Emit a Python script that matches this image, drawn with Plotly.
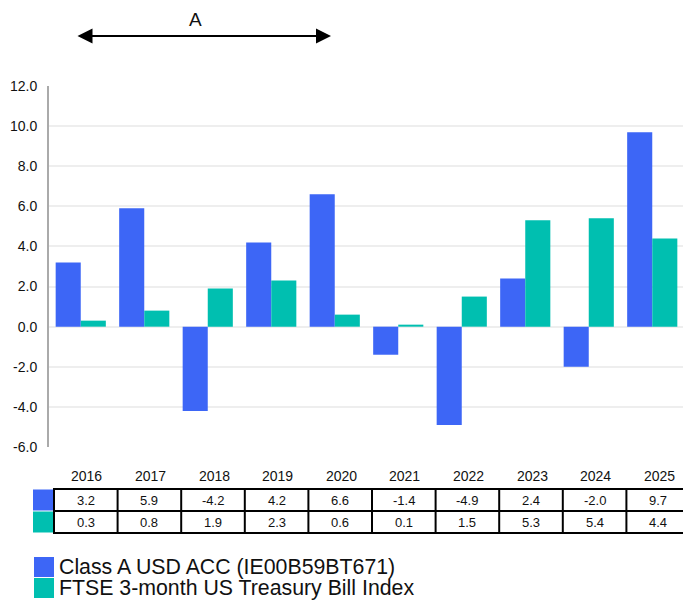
import plotly.graph_objects as go

years = ["2016", "2017", "2018", "2019", "2020", "2021", "2022", "2023", "2024", "2025"]
fund = [3.2, 5.9, -4.2, 4.2, 6.6, -1.4, -4.9, 2.4, -2.0, 9.7]
bench = [0.3, 0.8, 1.9, 2.3, 0.6, 0.1, 1.5, 5.3, 5.4, 4.4]
names = ["Class A USD ACC (IE00B59BT671)", "FTSE 3-month US Treasury Bill Index"]
colors = ["#3D66F6", "#00BFB0"]
yticks = [-6, -4, -2, 0, 2, 4, 6, 8, 10, 12]

# page body has an 8px margin; work in screen pixels
OFF = 8
SW, SH = 691, 601
PL, PR, PT, PB = 49, 684, 86, 447          # plot area in screen pixels
W, H = SW - OFF, SH - OFF
PW, PH = PR - PL, PB - PT
FONT = "Liberation Sans, Arial, sans-serif"

def px(x):
    return (x - PL) / PW

def py(y):
    return (PB - y) / PH

fig = go.Figure()
for vals, name, col in zip([fund, bench], names, colors):
    fig.add_trace(go.Bar(x=years, y=vals, name=name, marker_color=col,
                         marker_line_width=0, showlegend=False))

shapes = []
annotations = []

def text(x, y, s, size, anchor="center", pad=1):
    annotations.append(dict(x=px(x), y=py(y), xref="paper", yref="paper", text=s,
                            xanchor=anchor, yanchor="middle", showarrow=False, borderpad=pad,
                            font=dict(size=size, color="#111", family=FONT)))

# table
tab_l, tab_r = 54, 690
colw = (tab_r - tab_l) / len(years)
row_t = [489, 511]
row_h = 22
tab_b = row_t[-1] + row_h
line = dict(color="black", width=2)
for yy in [row_t[0], row_t[1], tab_b]:
    shapes.append(dict(type="line", xref="paper", yref="paper", x0=px(tab_l - 1), x1=px(tab_r + 1),
                       y0=py(yy), y1=py(yy), line=line))
for i in range(len(years) + 1):
    xx = tab_l + i * colw
    shapes.append(dict(type="line", xref="paper", yref="paper", x0=px(xx), x1=px(xx),
                       y0=py(row_t[0]), y1=py(tab_b), line=line))
for r, col in enumerate(colors):
    shapes.append(dict(type="rect", xref="paper", yref="paper", x0=px(33), x1=px(53),
                       y0=py(row_t[r] + 0.5), y1=py(row_t[r] + row_h - 0.5),
                       fillcolor=col, line=dict(width=0)))
for i, yr in enumerate(years):
    cx = tab_l + (i + 0.5) * colw
    text(cx + 1, 476, yr, 14)
    for r, vals in enumerate([fund, bench]):
        text(cx, row_t[r] + row_h / 2, f"{vals[i]:.1f}", 13)

# legend
for k, (name, col) in enumerate(zip(names, colors)):
    top = 557 + k * 21
    shapes.append(dict(type="rect", xref="paper", yref="paper", x0=px(34), x1=px(54),
                       y0=py(top), y1=py(top + 20), fillcolor=col, line=dict(width=0)))
    text(58, top + 10, name, 21.3, anchor="left", pad=0)

# arrow with label
annotations.append(dict(x=px(331), y=py(36), xref="paper", yref="paper", ax=-255, ay=0,
                        text="", showarrow=True, arrowhead=2, startarrowhead=2,
                        arrowside="end+start", arrowwidth=2, arrowsize=1.5, startarrowsize=1.5,
                        arrowcolor="black"))
text(195, 19, "A", 19, pad=0)

fig.update_layout(
    width=W, height=H,
    margin=dict(l=PL - OFF, r=SW - PR, t=PT - OFF, b=SH - PB, autoexpand=False),
    paper_bgcolor="white", plot_bgcolor="white",
    barmode="group", bargap=0.21, bargroupgap=0.0,
    font=dict(family=FONT, size=14, color="#111"),
    shapes=shapes, annotations=annotations,
    xaxis=dict(showticklabels=False, showgrid=False, zeroline=False, showline=False,
               ticks="", fixedrange=True, automargin=False),
    yaxis=dict(range=[-6, 12], tickvals=yticks, ticktext=[f"{v:.1f}" for v in yticks],
               showgrid=True, gridcolor="#EEEEEE", gridwidth=2,
               zeroline=True, zerolinecolor="#EEEEEE", zerolinewidth=2,
               showline=True, linecolor="#AAAAAA", linewidth=2, automargin=False,
               ticks="", ticklabelstandoff=7, tickfont=dict(size=14, color="#111")),
)

fig.write_html("out.html")
